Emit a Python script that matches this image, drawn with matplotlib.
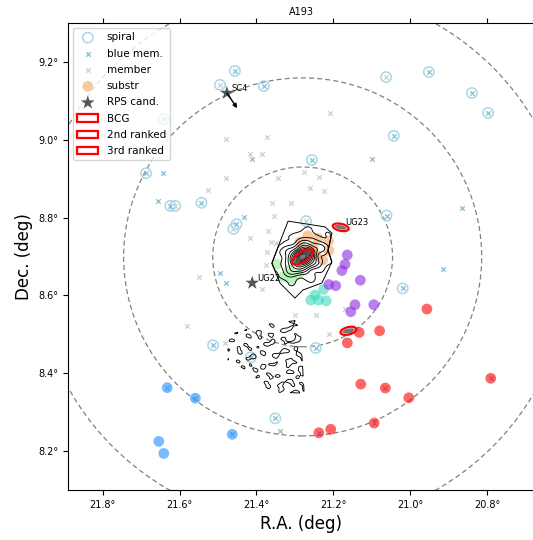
import numpy as np
import matplotlib
matplotlib.use("Agg")
import matplotlib.pyplot as plt
from matplotlib.patches import Ellipse
from matplotlib.path import Path
from matplotlib.ticker import MultipleLocator, FuncFormatter

# ---------------- data (RA, Dec in degrees) ----------------
title = "A193"
center_ra, center_dec = 21.280, 8.699
circle_radii = [0.231, 0.460, 0.690]

spiral_ra = [21.456, 21.495, 21.381, 21.641, 21.687, 21.063, 20.952, 20.840, 20.798, 21.043,
             21.256, 21.624, 21.611, 21.543, 21.452, 21.460, 21.062, 21.271, 21.020, 21.513,
             21.415, 21.246, 21.351]
spiral_dec = [9.177, 9.141, 9.138, 9.053, 8.914, 9.161, 9.174, 9.120, 9.069, 9.010,
              8.948, 8.830, 8.830, 8.838, 8.783, 8.771, 8.805, 8.791, 8.618, 8.472,
              8.441, 8.465, 8.284]

bluemem_ra = [21.411, 21.643, 21.101, 21.655, 21.433, 21.496, 21.478, 20.867, 20.914, 21.339,
              21.456, 21.381, 21.641, 21.687, 20.952, 20.840, 20.798, 21.043, 21.256, 21.624,
              21.543, 21.452, 21.062, 21.020, 21.513, 21.415, 21.246, 21.351,
              21.065, 20.791, 21.094, 21.238, 21.632, 21.559, 21.463]
bluemem_dec = [8.950, 8.914, 8.951, 8.843, 8.802, 8.657, 8.632, 8.825, 8.669, 8.252,
               9.177, 9.138, 9.053, 8.914, 9.174, 9.120, 9.069, 9.010, 8.948, 8.830,
               8.838, 8.783, 8.805, 8.618, 8.472, 8.441, 8.465, 8.284,
               8.362, 8.387, 8.272, 8.247, 8.363, 8.336, 8.243]

member_ra = [21.480, 21.372, 21.418, 21.386, 21.478, 21.344, 21.209, 21.276, 21.237, 21.526,
             21.360, 21.355, 21.371, 21.418, 21.363, 21.349, 21.373, 21.375, 21.550, 21.386,
             21.580, 21.299, 21.261, 21.224, 21.170, 21.246, 21.212, 21.481, 21.309, 21.063,
             21.495, 21.611, 21.460, 21.271]
member_dec = [9.002, 9.006, 8.963, 8.963, 8.902, 8.902, 9.069, 8.916, 8.903, 8.871,
              8.837, 8.805, 8.765, 8.747, 8.736, 8.734, 8.711, 8.678, 8.648, 8.617,
              8.521, 8.549, 8.875, 8.868, 8.564, 8.549, 8.502, 8.479, 8.837, 9.161,
              9.141, 8.830, 8.771, 8.791]

sub_orange_ra = [21.267, 21.241, 21.213, 21.212, 21.228, 21.287, 21.253, 21.245]
sub_orange_dec = [8.753, 8.747, 8.740, 8.715, 8.691, 8.737, 8.724, 8.704]
sub_green_ra = [21.347, 21.331, 21.308, 21.290, 21.316]
sub_green_dec = [8.680, 8.647, 8.642, 8.655, 8.665]
sub_turq_ra = [21.226, 21.259, 21.239, 21.219, 21.248]
sub_turq_dec = [8.615, 8.588, 8.588, 8.586, 8.601]
sub_purple_ra = [21.164, 21.170, 21.178, 21.130, 21.212, 21.194, 21.144, 21.155, 21.095]
sub_purple_dec = [8.704, 8.680, 8.664, 8.639, 8.628, 8.625, 8.576, 8.558, 8.576]
sub_red_ra = [20.957, 21.133, 21.080, 21.164, 21.129, 21.065, 21.004, 20.791, 21.094, 21.238, 21.207]
sub_red_dec = [8.565, 8.505, 8.509, 8.478, 8.372, 8.362, 8.337, 8.387, 8.272, 8.247, 8.256]
sub_blue_ra = [21.632, 21.559, 21.463, 21.654, 21.641]
sub_blue_dec = [8.363, 8.336, 8.243, 8.225, 8.194]

rps_names = ["SC4", "UG22"]
rps_ra = [21.477, 21.411]
rps_dec = [9.120, 8.632]
sc4_motion_ra, sc4_motion_dec = 21.450, 9.081

# ranked galaxies: (ra, dec, width, height, angle)
bcg = (21.280, 8.699, 0.062, 0.026, -32)
second = (21.181, 8.775, 0.042, 0.018, 12)
third = (21.161, 8.509, 0.042, 0.019, -14)
second_name = "UG23"

# X-ray chip boundary and faint patch region
chip_ra = [21.318, 21.222, 21.204, 21.214, 21.204, 21.230, 21.279, 21.300, 21.339, 21.360, 21.334]
chip_dec = [8.791, 8.776, 8.760, 8.716, 8.686, 8.632, 8.614, 8.593, 8.632, 8.683, 8.750]
patch_ra = [21.474, 21.386, 21.287, 21.276, 21.360, 21.417, 21.474]
patch_dec = [8.498, 8.524, 8.537, 8.349, 8.351, 8.403, 8.434]
contour_levels = [0.003, 0.010, 0.018, 0.027, 0.038, 0.052, 0.07, 0.095, 0.13, 0.18,
                  0.25, 0.35, 0.5]

xlim = (21.890, 20.676)
ylim = (8.1, 9.3)

# ---------------- figure ----------------
W, H = 533, 540
fig = plt.figure(figsize=(W / 100, H / 100), dpi=100)
ax = fig.add_axes([68 / W, 50 / H, 467 / W, 467 / H])
cosd = np.cos(np.deg2rad(center_dec))

for r in circle_radii:
    ax.add_patch(Ellipse((center_ra, center_dec), 2 * r / cosd, 2 * r, fill=False,
                         ls=(0, (4, 2.5)), lw=0.9, color="gray", zorder=1))

ax.scatter(spiral_ra, spiral_dec, s=55, facecolors="none", edgecolors="#a9d6e8",
           linewidths=1.1, label="spiral", zorder=2)
ax.scatter(bluemem_ra, bluemem_dec, s=11, marker="x", color="#86bfd4",
           linewidths=0.9, label="blue mem.", zorder=2.5)
ax.scatter(member_ra, member_dec, s=11, marker="x", color="#d0d0d0",
           linewidths=0.9, label="member", zorder=2.5)

sub_kw = dict(s=60, alpha=0.6, edgecolors="none", zorder=3)
ax.scatter(sub_orange_ra, sub_orange_dec, color="sandybrown", label="substr", **sub_kw)
ax.scatter(sub_green_ra, sub_green_dec, color="lightgreen", **sub_kw)
ax.scatter(sub_turq_ra, sub_turq_dec, color="#3ddbb8", **sub_kw)
ax.scatter(sub_purple_ra, sub_purple_dec, color="#8a2be2", **sub_kw)
ax.scatter(sub_red_ra, sub_red_dec, color="red", **sub_kw)
ax.scatter(sub_blue_ra, sub_blue_dec, color="dodgerblue", **sub_kw)

# ---------------- X-ray contours (model surface brightness) ----------------
gr = np.linspace(21.18, 21.50, 640)
gd = np.linspace(8.33, 8.82, 980)
RA, DEC = np.meshgrid(gr, gd)
U = (center_ra - RA) * cosd
V = DEC - center_dec
phi = np.deg2rad(30)
A = U * np.cos(phi) + V * np.sin(phi)
B = -U * np.sin(phi) + V * np.cos(phi)
R = np.sqrt(A ** 2 + (B / 0.72) ** 2)
rc = 0.0085
beta_model = (1 + (R / rc) ** 2) ** -1.0

waves = [(0.030, 10, 0.3), (0.024, 70, 1.7), (0.036, 130, 2.9), (0.020, 35, 4.1),
         (0.027, 100, 5.3), (0.033, 160, 0.9), (0.022, 220, 3.3), (0.018, 290, 2.2)]
T = np.zeros_like(U)
T2 = np.zeros_like(U)
for lam, ang, ph in waves:
    a = np.deg2rad(ang)
    proj = U * np.cos(a) + V * np.sin(a)
    T += np.sin(2 * np.pi / lam * proj + ph)
    T2 += np.sin(2 * np.pi / (1.8 * lam) * proj + ph)
T /= np.sqrt(len(waves) / 2.0)
T2 /= np.sqrt(len(waves) / 2.0)

pts = np.column_stack([RA.ravel(), DEC.ravel()])
in_chip = Path(np.column_stack([chip_ra, chip_dec])).contains_points(pts).reshape(RA.shape)
in_patch = Path(np.column_stack([patch_ra, patch_dec])).contains_points(pts).reshape(RA.shape)

lv = np.array(contour_levels)
amp = 0.14 * np.clip(R / 0.05, 0, 1)
F = np.where(in_chip, np.maximum(beta_model * (1 + amp * T2), lv[0] * 1.1), 0.0)
ramp = np.clip((RA - 21.27) / (21.47 - 21.27), 0, 1)
F = np.where(in_patch, lv[0] * (0.82 - 0.35 * ramp + 0.38 * T), F)
ax.contour(RA, DEC, F, levels=lv, colors="k", linewidths=0.65, zorder=4)

# ---------------- ranked galaxies ----------------
for (gra, gdec, w, h, ang), lab in zip([bcg, second, third], ["BCG", "2nd ranked", "3rd ranked"]):
    ax.add_patch(Ellipse((gra, gdec), w * 0.75, h * 0.6, angle=ang, facecolor="#555555",
                         edgecolor="none", alpha=0.8, zorder=5))
    ax.add_patch(Ellipse((gra, gdec), w, h, angle=ang, facecolor="none", edgecolor="red",
                         lw=1.6, label=lab, zorder=6))
ax.annotate(second_name, (second[0], second[1]), xytext=(3, 3.5), textcoords="offset points",
            fontsize=6, ha="left", va="center", zorder=7)

# ---------------- RPS candidates ----------------
ax.scatter(rps_ra, rps_dec, s=110, marker="*", color="#555555", edgecolors="none",
           label="RPS cand.", zorder=6)
for name, r_, d_ in zip(rps_names, rps_ra, rps_dec):
    ax.annotate(name, (r_, d_), xytext=(3.3, 3.5), textcoords="offset points",
                fontsize=6, ha="left", va="center", zorder=7)
ax.annotate("", xy=(sc4_motion_ra, sc4_motion_dec), xytext=(rps_ra[0], rps_dec[0]),
            arrowprops=dict(arrowstyle="-|>", color="k", lw=1.0, mutation_scale=6,
                            shrinkA=0, shrinkB=0), zorder=7)

# ---------------- axes ----------------
ax.set_xlim(*xlim)
ax.set_ylim(*ylim)
ax.xaxis.set_major_locator(MultipleLocator(0.2))
ax.yaxis.set_major_locator(MultipleLocator(0.2))
deg_fmt = FuncFormatter(lambda v, p: f"{v:.1f}\u00b0")
ax.xaxis.set_major_formatter(deg_fmt)
ax.yaxis.set_major_formatter(deg_fmt)
ax.tick_params(labelsize=7, top=True, length=3.5)
ax.set_xlabel("R.A. (deg)", fontsize=12)
ax.set_ylabel("Dec. (deg)", fontsize=12)
ax.set_title(title, fontsize=7)

order = ["spiral", "blue mem.", "member", "substr", "RPS cand.", "BCG", "2nd ranked", "3rd ranked"]
handles, labels = ax.get_legend_handles_labels()
hmap = dict(zip(labels, handles))
ax.legend([hmap[k] for k in order], order, loc="upper left", fontsize=7.5, scatterpoints=1,
          labelspacing=0.6)

fig.savefig("out.png", dpi=100)
